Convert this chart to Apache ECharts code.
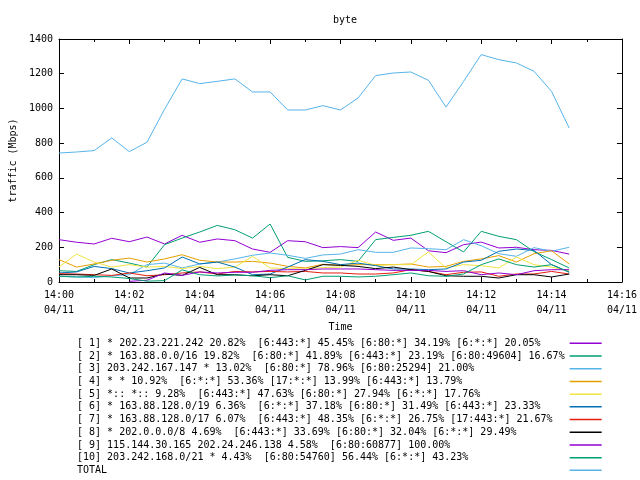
<!DOCTYPE html>
<html>
<head>
<meta charset="utf-8">
<script src="https://cdn.jsdelivr.net/npm/echarts@6/dist/echarts.min.js"></script>
<style>html,body{margin:0;padding:0;background:#fff}#c{width:640px;height:480px}</style>
</head>
<body>
<div id="c"></div>
<script>
var times = ["14:00:00","14:00:30","14:01:00","14:01:30","14:02:00","14:02:30","14:03:00","14:03:30","14:04:00","14:04:30",
             "14:05:00","14:05:30","14:06:00","14:06:30","14:07:00","14:07:30","14:08:00","14:08:30","14:09:00","14:09:30",
             "14:10:00","14:10:30","14:11:00","14:11:30","14:12:00","14:12:30","14:13:00","14:13:30","14:14:00","14:14:30"];

var xTickLabels = ["14:00\n04/11","14:02\n04/11","14:04\n04/11","14:06\n04/11","14:08\n04/11",
                   "14:10\n04/11","14:12\n04/11","14:14\n04/11","14:16\n04/11"];

var names = [
  "[ 1] * 202.23.221.242 20.82%  [6:443:*] 45.45% [6:80:*] 34.19% [6:*:*] 20.05%",
  "[ 2] * 163.88.0.0/16 19.82%  [6:80:*] 41.89% [6:443:*] 23.19% [6:80:49604] 16.67%",
  "[ 3] 203.242.167.147 * 13.02%  [6:80:*] 78.96% [6:80:25294] 21.00%",
  "[ 4] * * 10.92%  [6:*:*] 53.36% [17:*:*] 13.99% [6:443:*] 13.79%",
  "[ 5] *:: *:: 9.28%  [6:443:*] 47.63% [6:80:*] 27.94% [6:*:*] 17.76%",
  "[ 6] * 163.88.128.0/19 6.36%  [6:*:*] 37.18% [6:80:*] 31.49% [6:443:*] 23.33%",
  "[ 7] * 163.88.128.0/17 6.07%  [6:443:*] 48.35% [6:*:*] 26.75% [17:443:*] 21.67%",
  "[ 8] * 202.0.0.0/8 4.69%  [6:443:*] 33.69% [6:80:*] 32.04% [6:*:*] 29.49%",
  "[ 9] 115.144.30.165 202.24.246.138 4.58%  [6:80:60877] 100.00%",
  "[10] 203.242.168.0/21 * 4.43%  [6:80:54760] 56.44% [6:*:*] 43.23%",
  "TOTAL"
];

var colors = ["#9400d3","#009e73","#56b4e9","#e69f00","#f0e442","#0072b2","#e51e10","#000000","#9400d3","#009e73","#56b4e9"];

var s1 = [244,229,219,252,232,259,219,269,229,248,238,190,171,238,232,198,204,198,288,240,253,180,169,215,230,196,200,186,182,161];
var s2 = [65,61,100,129,109,86,215,253,288,326,301,253,334,142,119,122,129,119,244,257,269,292,232,173,292,263,244,175,129,81];
var s3 = [33,29,25,36,42,100,109,81,104,115,133,154,167,154,136,156,161,186,171,171,196,192,186,244,209,163,148,198,177,200];
var s4 = [129,86,104,125,138,115,133,157,125,115,115,119,109,90,81,102,96,100,100,100,104,86,90,119,133,152,115,163,180,104];
var s5 = [86,161,115,86,100,86,90,77,90,77,86,148,81,77,75,83,86,125,96,100,100,173,81,100,94,81,144,100,86,65];
var s6 = [52,58,90,77,52,65,81,144,104,115,86,42,46,86,129,119,100,109,94,75,75,71,75,115,125,177,190,182,100,58];
var s7 = [48,46,42,38,52,36,42,52,58,46,61,58,61,58,61,52,52,46,46,52,71,61,42,56,58,33,46,46,61,46];
var s8 = [42,42,38,75,23,23,46,38,84,42,42,36,42,36,67,100,96,90,77,86,71,61,36,33,33,23,42,42,29,46];
var s9 = [null,null,null,null,4,10,52,38,58,52,56,56,67,71,71,75,75,75,71,67,67,67,61,65,42,52,42,65,71,71];
var s10 = [33,29,33,29,20,5,8,70,42,35,40,36,25,36,12,33,33,29,33,42,52,36,33,46,100,133,100,86,100,56];
var total = [743,749,757,830,751,805,995,1170,1143,1156,1170,1095,1095,991,991,1016,991,1060,1189,1204,1210,1162,1008,1156,1310,1281,1262,1214,1098,887];

var seriesValues = [s1,s2,s3,s4,s5,s6,s7,s8,s9,s10,total];

function toMin(t){ var p=t.split(':'); return (+p[0]-14)*60 + (+p[1]) + (+p[2])/60; }

var FONT = "DejaVu Sans Mono";
var chart = echarts.init(document.getElementById('c'), null, {renderer:'canvas'});

var maxLen = names.reduce(function(m, n){ return Math.max(m, n.length); }, 0);
function pad(n){ while (n.length < maxLen) n += ' '; return n; }

var series = seriesValues.map(function(vals, k){
  return {
    name: names[k], type: 'line', showSymbol: false, symbol: 'none', animation: false,
    xAxisIndex: 0, yAxisIndex: 0,
    lineStyle: {width: 1, color: colors[k]}, itemStyle: {color: colors[k]},
    connectNulls: false,
    data: vals.map(function(v, i){ return [toMin(times[i]), v]; })
  };
});

var tickBase = {show:true, inside:true, length:5, lineStyle:{color:'#000', width:1}};
var minorBase = {show:true, splitNumber:2, length:3, lineStyle:{color:'#000', width:1}};
var lineBase = {show:true, onZero:false, lineStyle:{color:'#000', width:1}};

chart.setOption({
  animation: false,
  backgroundColor: '#fff',
  color: colors,
  title: {text: 'byte', left: 328, top: 10, textStyle: {fontFamily: FONT, fontSize: 10, fontWeight: 'normal', color: '#000'}},
  grid: {left: 58, right: 18, top: 39, bottom: 198, containLabel: false},
  xAxis: [
    {type:'value', min:0, max:16, interval:2, position:'bottom',
     axisLine: lineBase, axisTick: tickBase, minorTick: minorBase, splitLine:{show:false},
     axisLabel: {show:true, margin:6, fontFamily:FONT, fontSize:10, color:'#000', lineHeight:15,
       formatter: function(v){ return xTickLabels[Math.round(v/2)]; }},
     name: 'Time', nameLocation:'middle', nameGap: 40,
     nameTextStyle: {fontFamily:FONT, fontSize:10, color:'#000'}},
    {type:'value', min:0, max:16, interval:2, position:'top',
     axisLine: lineBase, axisTick: tickBase, minorTick: minorBase, splitLine:{show:false},
     axisLabel: {show:false}}
  ],
  yAxis: [
    {type:'value', min:0, max:1400, interval:200, position:'left',
     axisLine: lineBase, axisTick: tickBase, splitLine:{show:false},
     axisLabel: {show:true, margin:6, fontFamily:FONT, fontSize:10, color:'#000',
       formatter: function(v){ return String(v); }},
     name: 'traffic (Mbps)', nameLocation:'middle', nameGap: 40, nameRotate: 90,
     nameTextStyle: {fontFamily:FONT, fontSize:10, color:'#000'}},
    {type:'value', min:0, max:1400, interval:200, position:'right',
     axisLine: lineBase, axisTick: tickBase, splitLine:{show:false},
     axisLabel: {show:false}}
  ],
  legend: {
    orient: 'vertical', left: 77, top: 337, align: 'right',
    itemGap: 0, itemWidth: 32, itemHeight: 1.5, icon: 'rect',
    selectedMode: false, padding: 0,
    formatter: function(n){ return pad(n); },
    textStyle: {fontFamily: FONT, fontSize: 10, color: '#000', lineHeight: 12.7},
    data: names
  },
  series: series
});
</script>
</body>
</html>
